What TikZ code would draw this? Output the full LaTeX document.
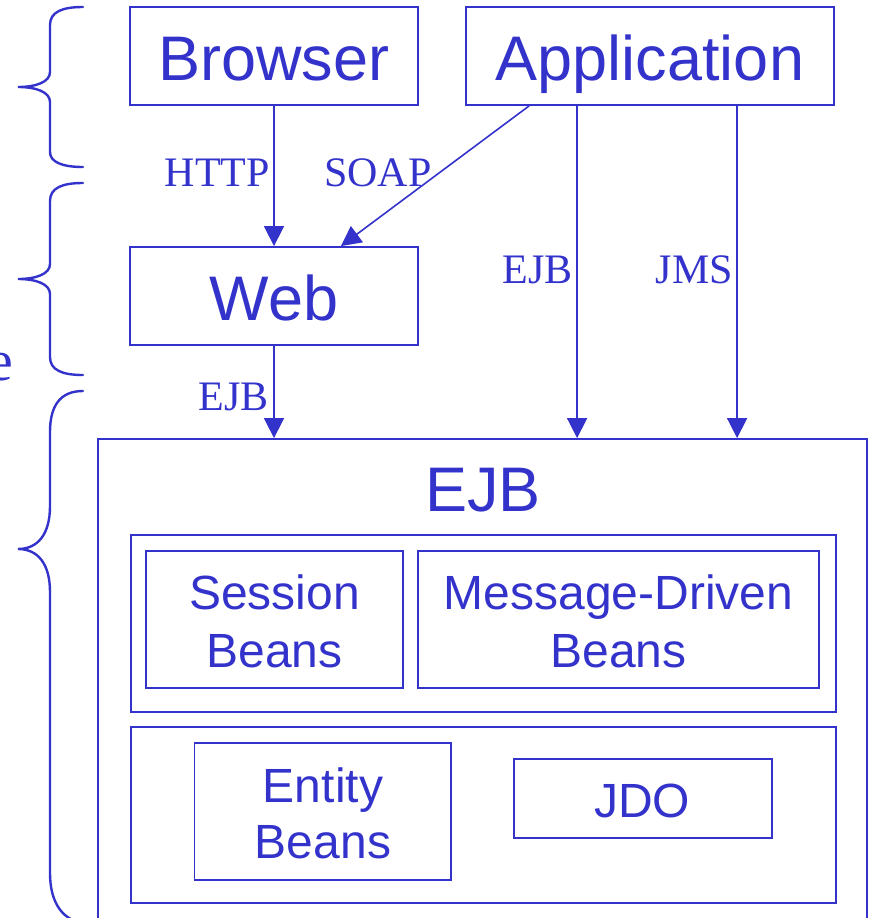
\documentclass[tikz,border=0pt]{standalone}
\usepackage{fontspec}
\setmainfont{Liberation Serif}
\newfontfamily\arial{Liberation Sans}
\usetikzlibrary{arrows.meta,calc}
\definecolor{jblue}{RGB}{51,51,204}
\begin{document}
\begin{tikzpicture}[x=1pt,y=-1pt,
  box/.style={draw=jblue,line width=1.8pt,inner sep=0pt,fill=none},
  bigtxt/.style={text=jblue,inner sep=0pt,anchor=base,font=\arial\fontsize{63}{63}\selectfont},
  midtxt/.style={text=jblue,inner sep=0pt,anchor=base,font=\arial\fontsize{48}{48}\selectfont},
  lbl/.style={text=jblue,inner sep=0pt,anchor=base east,font=\fontsize{42}{42}\selectfont},
  arr/.style={draw=jblue,line width=1.6pt,-{Triangle[length=20pt,width=20pt]}},
  brace/.style={draw=jblue,line width=2.4pt,line cap=round}]
\clip (0,0) rectangle (869,918);
\useasboundingbox (0,0) rectangle (869,918);
% boxes
\node[box,minimum width=288pt,minimum height=98pt] (browser) at (274,56) {};
\node[box,minimum width=368pt,minimum height=98pt] (app) at (650,56) {};
\node[box,minimum width=288pt,minimum height=98pt] (web) at (274,296) {};
\node[box,minimum width=769pt,minimum height=501pt] (outer) at (482.5,689.5) {};
\node[box,minimum width=705pt,minimum height=177pt] (inner1) at (483.5,623.5) {};
\node[box,minimum width=257pt,minimum height=137pt] (session) at (274.5,619.5) {};
\node[box,minimum width=401pt,minimum height=137pt] (mdb) at (618.5,619.5) {};
\node[box,minimum width=705pt,minimum height=176pt] (inner2) at (483.5,815) {};
\node[box,minimum width=256.5pt,minimum height=137pt] (entity) at (322.75,811.5) {};
\node[box,minimum width=258pt,minimum height=79pt] (jdo) at (643,798.5) {};
% texts
\node[bigtxt] (tbrowser) at (274,80) {Browser};
\node[bigtxt] (tapp) at (650,80) {Application};
\node[bigtxt] (tweb) at (274,320) {Web};
\node[bigtxt] (tejb) at (483,511) {EJB};
\node[midtxt] (tsess1) at (274.5,609) {Session};
\node[midtxt] (tsess2) at (274.5,667) {Beans};
\node[midtxt] (tmdb1) at (618.5,609) {Message-Driven};
\node[midtxt] (tmdb2) at (618.5,667) {Beans};
\node[midtxt] (tent1) at (323,802) {Entity};
\node[midtxt] (tent2) at (323,858) {Beans};
\node[midtxt] (tjdo) at (642,817) {JDO};
% connectors
\coordinate (soapA) at ($(app.south west)+(64,0)$);
\coordinate (soapB) at ($(web.north east)+(-78,0)$);
\coordinate (ejbA) at ($(app.south west)+(112,0)$);
\coordinate (ejbB) at ($(outer.north west)+(480,0)$);
\coordinate (jmsA) at ($(app.south west)+(272,0)$);
\coordinate (jmsB) at ($(outer.north west)+(640,0)$);
\draw[arr] (browser.south) -- (web.north);
\draw[arr] (soapA) -- (soapB);
\draw[arr] (ejbA) -- (ejbB);
\draw[arr] (jmsA) -- (jmsB);
\draw[arr] (web.south) -- (web.south |- outer.north);
% labels
\node[lbl] (lhttp) at (270,186) {HTTP};
\node[lbl,anchor=base west] (lsoap) at (324,186) {SOAP};
\node[lbl] (lejb1) at (573,283) {EJB};
\node[lbl] (ljms) at (733,283) {JMS};
\node[lbl] (lejb2) at (269,410) {EJB};
\node[text=jblue,inner sep=0pt,anchor=base east,font=\fontsize{58}{58}\selectfont] (le) at (13.5,380) {e};
% braces
\draw[brace] (83,7) .. controls (62,7) and (50,12) .. (50,25) -- (50,72)
  .. controls (50,82) and (36,87) .. (18,87)
  .. controls (36,87) and (50,92) .. (50,102) -- (50,152)
  .. controls (50,162) and (62,167) .. (83,167);
\draw[brace] (83,183) .. controls (62,183) and (50,188) .. (50,201) -- (50,264)
  .. controls (50,274) and (36,279) .. (18,279)
  .. controls (36,279) and (50,284) .. (50,294) -- (50,357)
  .. controls (50,370) and (62,375) .. (83,375);
\draw[brace] (83,391) .. controls (60,391) and (50,406) .. (50,432) -- (50,506)
  .. controls (50,534) and (38,549) .. (18,549)
  .. controls (38,549) and (50,564) .. (50,592) -- (50,873)
  .. controls (50,902) and (62,922) .. (88,924);
\end{tikzpicture}
\end{document}
